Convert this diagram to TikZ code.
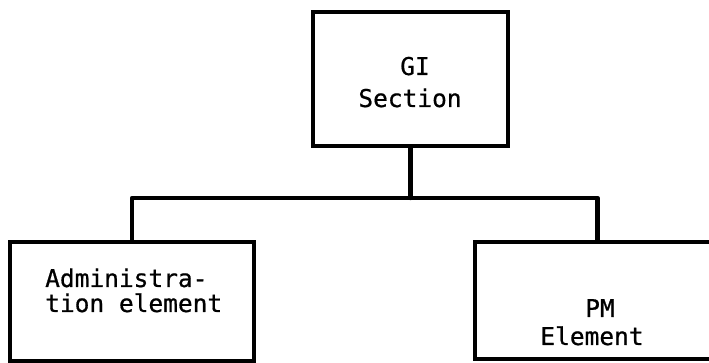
\documentclass[tikz,border=0pt]{standalone}
\usepackage{fontspec}
\setmainfont{DejaVu Sans Mono}[UprightFeatures={FakeBold=0.6}]
\begin{document}
\begin{tikzpicture}[x=1pt,y=1pt,
  unit/.style={draw=black, line width=4.5pt, fill=white, inner sep=0pt},
  label/.style={inner sep=0pt, font=\fontsize{24.5}{28}\selectfont},
  link/.style={draw=black, line width=4.5pt, line join=round, line cap=round}]
  \clip (0,0) rectangle (709,363);
  \fill[white] (0,0) rectangle (709,363);
  % boxes of the organisation chart
  \node[unit, minimum width=195pt, minimum height=134pt] (gi) at (410.5,284) {};
  \node[unit, minimum width=244pt, minimum height=119pt] (adm) at (132,61.5) {};
  \node[unit, minimum width=245pt, minimum height=117pt] (pm) at (597.5,62.5) {};
  % connector bus
  \coordinate (bus) at (0,165);
  \draw[link] (gi.south) -- (gi.south |- bus);
  \draw[link] (adm.north) -- (adm.north |- bus) -- (pm.north |- bus) -- (pm.north);
  % labels
  \node[label, anchor=base] (gi1) at (415,288) {GI};
  \node[label, anchor=base] (gi2) at (410,256) {Section};
  \node[label, anchor=base west] (adm1) at (45,76) {Administra-};
  \node[label, anchor=base west] (adm2) at (45,51) {tion element};
  \node[label, anchor=base] (pm1) at (600,46) {PM};
  \node[label, anchor=base] (pm2) at (592,18) {Element};
\end{tikzpicture}
\end{document}
